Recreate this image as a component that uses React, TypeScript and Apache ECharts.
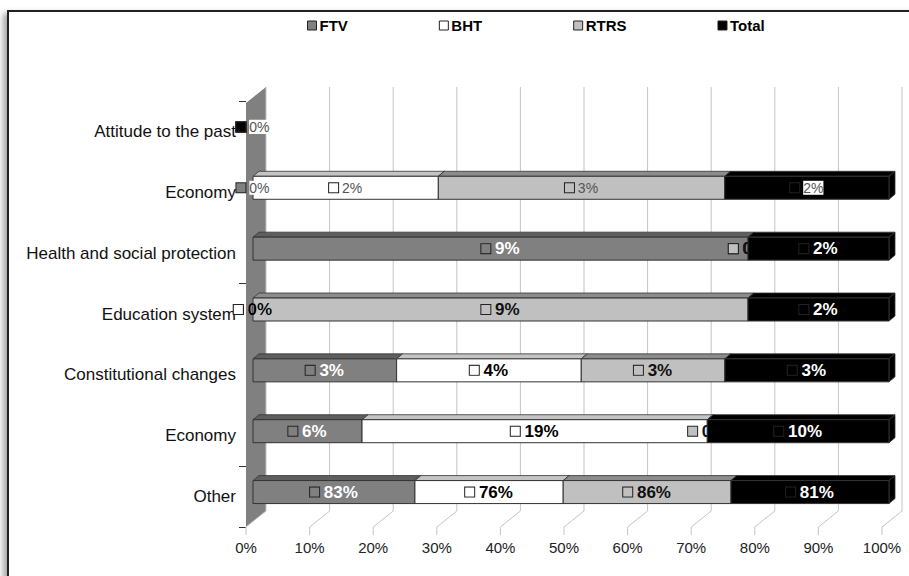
import React, { useEffect, useRef } from 'react';
import * as echarts from 'echarts';

const categories = [
  'Attitude to the past',
  'Economy',
  'Health and social protection',
  'Education system',
  'Constitutional changes',
  'Economy',
  'Other',
];
const seriesNames = ['FTV', 'BHT', 'RTRS', 'Total'];
const ftv = [0, 0, 8.6, 0, 2.8, 6, 83];
const bht = [0, 2.2, 0, 0, 3.6, 19, 76];
const rtrs = [0, 3.4, 0, 8.6, 2.8, 0, 86];
const total = [0, 1.95, 2.45, 2.45, 3.2, 10, 81];
const xTicks = [0, 10, 20, 30, 40, 50, 60, 70, 80, 90, 100];

const FONT = '"Liberation Sans", Arial, sans-serif';
const faceColors = ['#808080', '#ffffff', '#c0c0c0', '#000000'];
const topColors = ['#5e5e5e', '#c4c4c4', '#8c8c8c', '#000000'];
const labelColors = ['#ffffff', '#000000', '#111111', '#ffffff'];
const plainRows = [0, 1];

const seriesValues = [ftv, bht, rtrs, total];

function buildStacks() {
  const out: number[][][] = seriesValues.map(() => []);
  categories.forEach((_, i) => {
    const sum = seriesValues.reduce((a, arr) => a + arr[i], 0);
    let cum = 0;
    seriesValues.forEach((arr, s) => {
      const pct = sum > 0 ? (arr[i] / sum) * 100 : 0;
      out[s].push([i, cum, cum + pct, arr[i]]);
      cum += pct;
    });
  });
  return out;
}

export default function App() {
  const ref = useRef<HTMLDivElement>(null);
  useEffect(() => {
    if (!ref.current) return;
    const chart = echarts.init(ref.current, undefined, { renderer: 'svg' });
    const stacks = buildStacks();
    const DX = 20, DY = -16;

    const frameSeries: any = {
      type: 'custom',
      name: 'frame',
      silent: true,
      z: 1,
      data: xTicks.map((t) => [t, 0]),
      renderItem: (params: any, api: any) => {
        const t = api.value(0);
        const cs = params.coordSys;
        const x = api.coord([t, 0])[0];
        const yTop = cs.y + 2;
        const yBot = cs.y + cs.height;
        const children: any[] = [];
        if (t === 0) {
          children.push({
            type: 'polygon',
            shape: { points: [[x, yTop], [x + DX, yTop + DY], [x + DX, yBot + DY], [x, yBot]] },
            style: { fill: '#808080' },
          });
        }
        children.push({
          type: 'polyline',
          shape: { points: [[x, yBot + 8], [x, yBot], [x + DX, yBot + DY], [x + DX, yTop + DY]] },
          style: { stroke: '#c4c4c4', lineWidth: 1, fill: null },
        });
        return { type: 'group', children };
      },
    };

    const barSeries = seriesNames.map((name, s) => ({
      type: 'custom',
      name,
      z: 3,
      itemStyle: { color: faceColors[s], borderColor: '#333', borderWidth: 1 },
      data: stacks[s],
      renderItem: (params: any, api: any) => {
        const cat = api.value(0);
        const x0 = api.value(1);
        const x1 = api.value(2);
        const raw = api.value(3);
        const pA = api.coord([x0, cat]);
        const pB = api.coord([x1, cat]);
        const fx = 7, dx = 6, dy = -5;
        const xl = pA[0] + fx;
        const xr = pB[0] + fx;
        const top = pA[1] - 16;
        const bot = pA[1] + 7;
        const children: any[] = [];
        const zf = s * 10;
        if (x1 > x0) {
          children.push({
            type: 'polygon', z2: zf,
            shape: { points: [[xl, top], [xl + dx, top + dy], [xr + dx, top + dy], [xr, top]] },
            style: { fill: topColors[s], stroke: '#333', lineWidth: 0.8 },
          });
          children.push({
            type: 'polygon', z2: zf,
            shape: { points: [[xr, top], [xr + dx, top + dy], [xr + dx, bot + dy], [xr, bot]] },
            style: { fill: topColors[s], stroke: '#333', lineWidth: 0.8 },
          });
          children.push({
            type: 'rect', z2: zf + 1,
            shape: { x: xl, y: top, width: xr - xl, height: bot - top },
            style: { fill: faceColors[s], stroke: '#333', lineWidth: 1 },
          });
        }
        const plain = plainRows.indexOf(cat) >= 0;
        const atStart = x0 === 0;
        const zeroHidden = raw === 0 && !atStart;
        const textBg = plain && (s === 3 || raw === 0) ? '#ffffff' : null;
        const font = plain ? `normal 14px ${FONT}` : `bold 17px ${FONT}`;
        const fill = plain ? '#555' : labelColors[s];
        children.push({
          type: 'text',
          z2: zeroHidden ? zf + 5 : 100,
          style: {
            x: (xl + xr) / 2,
            y: (top + bot) / 2,
            text: `{m|} {t|${Math.round(raw)}%}`,
            align: 'center',
            verticalAlign: 'middle',
            font,
            fill,
            rich: {
              m: { width: 9, height: 9, backgroundColor: faceColors[s], borderColor: '#222', borderWidth: 1 },
              t: { font, fill, backgroundColor: textBg },
            },
          },
        });
        return { type: 'group', children };
      },
    }));

    chart.setOption({
      animation: false,
      backgroundColor: 'transparent',
      legend: {
        data: seriesNames,
        top: 13,
        left: 302,
        itemGap: 91,
        itemWidth: 9,
        itemHeight: 9,
        icon: 'rect',
        itemStyle: { borderColor: '#222', borderWidth: 1 },
        textStyle: { fontFamily: FONT, fontWeight: 'bold', fontSize: 15, color: '#000', padding: [0, 0, 0, -2] },
      },
      grid: { left: 246, right: 27, top: 101, bottom: 49, containLabel: false },
      xAxis: {
        type: 'value',
        min: 0,
        max: 100,
        interval: 10,
        axisLine: { show: false },
        axisTick: { show: false },
        splitLine: { show: false },
        axisLabel: { formatter: '{value}%', margin: 13, fontSize: 15, color: '#222', fontFamily: FONT },
      },
      yAxis: {
        type: 'category',
        data: categories,
        inverse: true,
        axisLine: { show: false },
        axisTick: { show: true, interval: 2, length: 7, lineStyle: { color: '#333' } },
        axisLabel: { interval: 0, margin: 10, fontSize: 17, color: '#111', fontFamily: FONT },
        splitLine: { show: false },
      },
      series: [frameSeries, ...barSeries],
    });
    return () => chart.dispose();
  }, []);

  return (
    <div style={{ position: 'fixed', left: 0, top: 0, width: 909, height: 576, background: '#fff', overflow: 'hidden' }}>
      <div
        style={{
          position: 'absolute', left: 7, top: 10, width: 1000, height: 1000,
          border: '2px solid #222', boxShadow: '-4px 3px 6px rgba(0,0,0,0.35)', background: '#fff',
        }}
      />
      <div ref={ref} style={{ position: 'absolute', left: 0, top: 0, width: 909, height: 576 }} />
    </div>
  );
}
